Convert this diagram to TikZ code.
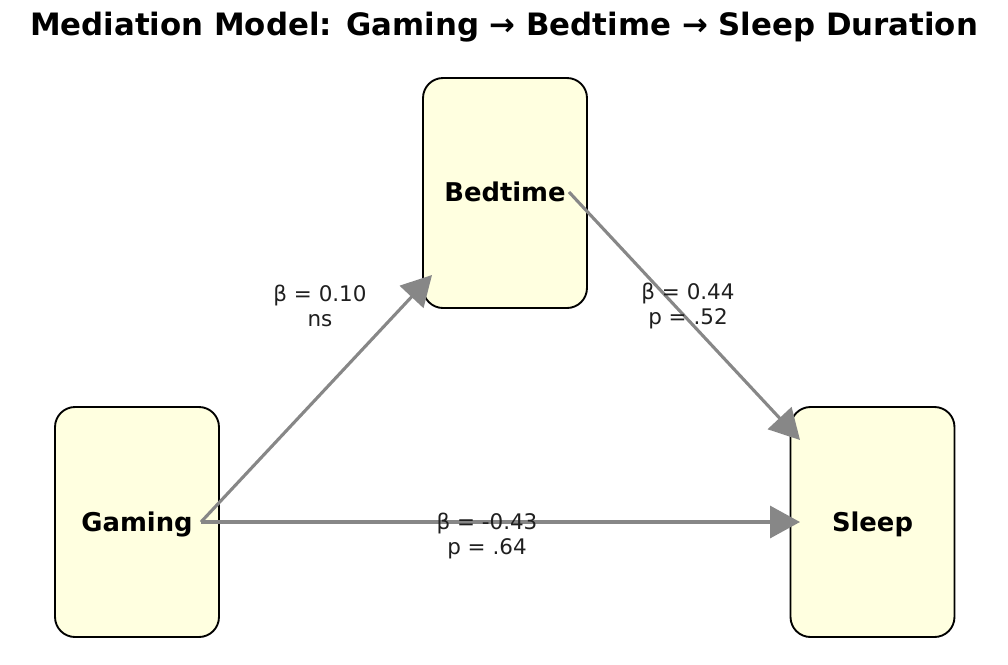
\documentclass[tikz,border=0pt]{standalone}
\usepackage{fontspec}
\setmainfont{DejaVu Sans}
\usetikzlibrary{arrows.meta,calc}
\definecolor{boxfill}{HTML}{FFFFE0}
\definecolor{arrowgray}{HTML}{878787}
\begin{document}
\begin{tikzpicture}[x=0.48pt,y=-0.48pt,
  box/.style={draw=black,line width=0.9pt,fill=boxfill,rounded corners=9.6pt,
    minimum width=78.7pt,minimum height=110.4pt,inner sep=0pt,
    font=\fontsize{12.4}{14}\selectfont\bfseries},
  conn/.style={draw=arrowgray,line width=1.5pt,
    -{Triangle[length=14.4pt,width=15.4pt]}},
  lab/.style={align=center,inner sep=0pt,font=\fontsize{10.3}{12.4}\selectfont,text=black!88}]
\useasboundingbox (0,0) rectangle (1008,664);
\node[font=\fontsize{14.8}{18}\selectfont\bfseries,inner sep=0pt] (title) at (504,27) {Mediation Model: Gaming → Bedtime → Sleep Duration};
\node[box] (bedtime) at (505,193) {};
\node[box] (gaming) at (137,522) {};
\node[box] (sleep) at (872.5,522) {};
\node[font=\fontsize{12.4}{14}\selectfont\bfseries,inner sep=0pt,anchor=base] (bedtimetext) at ($(bedtime.center)+(0,8)$) {Bedtime};
\node[font=\fontsize{12.4}{14}\selectfont\bfseries,inner sep=0pt,anchor=base] (gamingtext) at ($(gaming.center)+(0,9)$) {Gaming};
\node[font=\fontsize{12.4}{14}\selectfont\bfseries,inner sep=0pt,anchor=base] (sleeptext) at ($(sleep.center)+(0,9)$) {Sleep};
\coordinate (gout) at ($(gaming.center)+(64,0)$);
\coordinate (bout) at ($(bedtime.center)+(64,-1)$);
\coordinate (bin) at ($(bedtime.center)+(-73,82)$);
\coordinate (sinb) at ($(sleep.center)+(-72.5,-82)$);
\coordinate (sing) at ($(sleep.center)+(-72.5,0)$);
\draw[conn] (gout) -- (bin);
\draw[conn] (bout) -- (sinb);
\draw[conn] (gout) -- (sing);
\node[lab] (l1) at (320,306) {β = 0.10\\ns};
\node[lab] (l2) at (688,306) {β = 0.44\\p = .52};
\node[lab] (l3) at (487,536) {β = -0.43\\p = .64};
\end{tikzpicture}
\end{document}
